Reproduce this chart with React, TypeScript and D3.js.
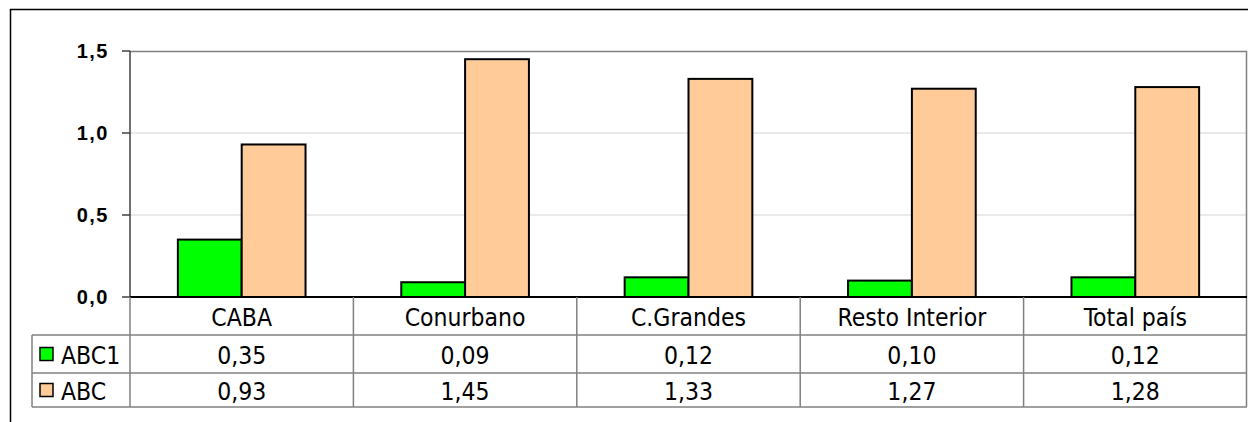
import React from 'react';
import * as d3 from 'd3';

const categories = ['CABA', 'Conurbano', 'C.Grandes', 'Resto Interior', 'Total país'];
const seriesNames = ['ABC1', 'ABC'];
const abc1 = [0.35, 0.09, 0.12, 0.1, 0.12];
const abc = [0.93, 1.45, 1.33, 1.27, 1.28];
const yTicks = [0, 0.5, 1, 1.5];
const colors = ['#00ff00', '#ffcc99'];

const fmt = (v: number, d: number) => v.toFixed(d).replace('.', ',');

const tableFont = 'DejaVu Sans Condensed, DejaVu Sans';

const App = () => {
  const width = 1248;
  const height = 422;
  const plot = { l: 130, r: 1247, t: 51, b: 297 };
  const rows = [297, 335, 373, 407];
  const tableLeft = 32;

  const x = d3.scaleBand().domain(categories).range([plot.l, plot.r]).padding(0);
  const y = d3.scaleLinear().domain([0, 1.5]).range([plot.b, plot.t]);

  const barW = x.bandwidth() / 3.5;
  const values = [abc1, abc];

  return (
    <svg width={width} height={height} style={{ position: 'absolute', left: 0, top: 0 }}>
      <rect width={width} height={height} fill="#fff" />
      {/* outer frame */}
      <line x1={10} x2={width + 5} y1={9.5} y2={9.5} stroke="#000" strokeWidth={1.5} />
      <line x1={10.5} x2={10.5} y1={9} y2={height + 5} stroke="#000" strokeWidth={1.5} />

      {/* grid */}
      {yTicks.filter(t => t > 0 && t < 1.5).map(t => (
        <line key={t} x1={plot.l} x2={plot.r} y1={y(t)} y2={y(t)} stroke="#d4d4d4" strokeWidth={1} />
      ))}
      <line x1={plot.l} x2={plot.r} y1={plot.t + 0.5} y2={plot.t + 0.5} stroke="#808080" strokeWidth={1.5} />
      <line x1={plot.r - 0.5} x2={plot.r - 0.5} y1={plot.t} y2={rows[3]} stroke="#808080" strokeWidth={1.5} />

      {/* y axis */}
      <line x1={plot.l} x2={plot.l} y1={plot.t} y2={plot.b} stroke="#404040" strokeWidth={1.5} />
      {yTicks.map(t => (
        <g key={t}>
          <line x1={122} x2={plot.l} y1={y(t)} y2={y(t)} stroke="#404040" strokeWidth={1.5} />
          <text
            x={109}
            y={y(t)}
            dy="0.36em"
            textAnchor="end"
            fontFamily="Liberation Sans, Arial"
            fontWeight="bold"
            fontSize={20}
            letterSpacing={1.5}
          >
            {fmt(t, 1)}
          </text>
        </g>
      ))}

      {/* bars */}
      {categories.map((c, i) => {
        const cx = (x(c) as number) + x.bandwidth() / 2;
        return values.map((vals, s) => (
          <rect
            key={c + s}
            x={cx - barW + s * barW}
            y={y(vals[i])}
            width={barW}
            height={plot.b - y(vals[i])}
            fill={colors[s]}
            stroke="#000"
            strokeWidth={2}
          />
        ));
      })}
      <line x1={plot.l} x2={plot.r} y1={plot.b} y2={plot.b} stroke="#000" strokeWidth={2} />

      {/* data table */}
      <g stroke="#808080" strokeWidth={1.5}>
        <line x1={tableLeft} x2={plot.r} y1={rows[1]} y2={rows[1]} />
        <line x1={tableLeft} x2={plot.r} y1={rows[2]} y2={rows[2]} />
        <line x1={tableLeft} x2={plot.r} y1={rows[3]} y2={rows[3]} />
        <line x1={tableLeft} x2={tableLeft} y1={rows[1]} y2={rows[3]} />
        {categories.map(c => (
          <line key={c} x1={x(c)} x2={x(c)} y1={plot.b} y2={rows[3]} />
        ))}
      </g>
      {categories.map((c, i) => {
        const cx = (x(c) as number) + x.bandwidth() / 2;
        return (
          <g key={c} fontFamily={tableFont} fontSize={24.5} textAnchor="middle">
            <text x={cx} y={(rows[0] + rows[1]) / 2 + 1} dy="0.36em">{c}</text>
            <text x={cx} y={(rows[1] + rows[2]) / 2 + 1} dy="0.36em">{fmt(abc1[i], 2)}</text>
            <text x={cx} y={(rows[2] + rows[3]) / 2 + 1} dy="0.36em">{fmt(abc[i], 2)}</text>
          </g>
        );
      })}
      {seriesNames.map((n, s) => {
        const cy = (rows[s + 1] + rows[s + 2]) / 2;
        return (
          <g key={n}>
            <rect x={40} y={cy - 6.5} width={13} height={13} fill={colors[s]} stroke="#000" strokeWidth={1.5} />
            <text x={61} y={cy + 1} dy="0.36em" fontFamily={tableFont} fontSize={24.5}>{n}</text>
          </g>
        );
      })}
    </svg>
  );
};

export default App;
